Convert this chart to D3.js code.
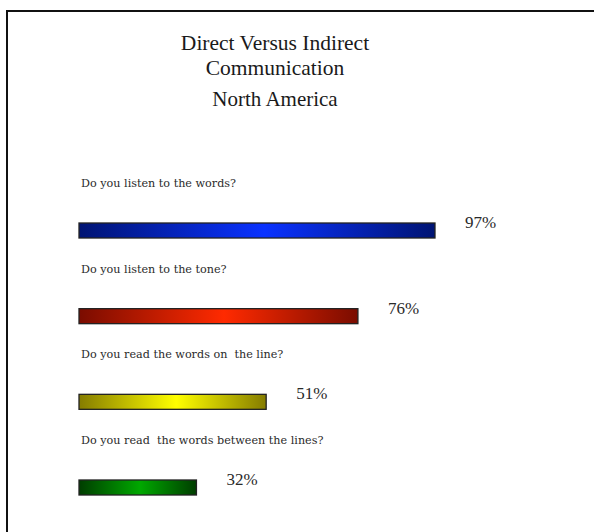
<!DOCTYPE html>
<html>
<head>
<meta charset="utf-8">
<script src="https://cdn.jsdelivr.net/npm/d3@7"></script>
<style>
  html, body { margin: 0; padding: 0; background: #fff; }
  svg { display: block; }
  text { white-space: pre; }
</style>
</head>
<body>
<svg id="chart" width="594" height="532"></svg>
<script>
// Survey questions and share of respondents answering yes (percent)
const questions = [
  "Do you listen to the words?",
  "Do you listen to the tone?",
  "Do you read the words on  the line?",
  "Do you read  the words between the lines?"
];
const values = [97, 76, 51, 32];
const titleLines = ["Direct Versus Indirect", "Communication"];
const subtitle = "North America";

// Bar shading: dark edge colour and bright centre colour per row
const edgeColors = ["#001473", "#7a0c00", "#857c00", "#003d00"];
const centerColors = ["#0a32ff", "#ff2a00", "#ffff00", "#00a800"];

const W = 594, H = 532;
const svg = d3.select("#chart");

// page frame (left and top rules)
svg.append("path")
  .attr("d", `M7,${H} L7,11 L${W},11`)
  .attr("fill", "none")
  .attr("stroke", "#111")
  .attr("stroke-width", 2);

const serif = "'Liberation Serif', 'DejaVu Serif', serif";
const labelFont = "'DejaVu Serif', 'Liberation Serif', serif";
const cx = 275;

svg.append("g").selectAll("text")
  .data(titleLines)
  .join("text")
  .attr("x", cx)
  .attr("y", (d, i) => 50 + i * 25)
  .attr("text-anchor", "middle")
  .attr("font-family", serif)
  .attr("font-size", 21.5)
  .attr("fill", "#1a1a1a")
  .text(d => d);

svg.append("text")
  .attr("x", cx)
  .attr("y", 106)
  .attr("text-anchor", "middle")
  .attr("font-family", serif)
  .attr("font-size", 21)
  .attr("fill", "#1a1a1a")
  .text(subtitle);

// gradients: dark – bright – dark across each bar
const defs = svg.append("defs");
values.forEach((v, i) => {
  const g = defs.append("linearGradient")
    .attr("id", "bar-grad-" + i)
    .attr("x1", "0%").attr("x2", "100%")
    .attr("y1", "0%").attr("y2", "0%");
  g.append("stop").attr("offset", "0%").attr("stop-color", edgeColors[i]);
  g.append("stop").attr("offset", "52%").attr("stop-color", centerColors[i]);
  g.append("stop").attr("offset", "100%").attr("stop-color", edgeColors[i]);
});

const x = d3.scaleLinear().domain([0, 100]).range([79, 446]);
const y = d3.scalePoint().domain(questions).range([223, 480]);
const barH = 15;

const rows = svg.append("g").selectAll("g")
  .data(questions.map((q, i) => ({ q, v: values[i], i })))
  .join("g");

rows.append("text")
  .attr("x", 81)
  .attr("y", d => y(d.q) - 36)
  .attr("font-family", labelFont)
  .attr("font-size", 11.2)
  .attr("fill", "#2a2a2a")
  .text(d => d.q);

rows.append("rect")
  .attr("x", x(0))
  .attr("y", d => y(d.q))
  .attr("width", d => x(d.v) - x(0))
  .attr("height", barH)
  .attr("fill", d => `url(#bar-grad-${d.i})`)
  .attr("stroke", "#222")
  .attr("stroke-width", 1.3);

rows.append("text")
  .attr("x", d => x(d.v) + 30)
  .attr("y", d => y(d.q) + 5)
  .attr("font-family", serif)
  .attr("font-size", 17)
  .attr("fill", "#2a2a2a")
  .text(d => d.v + "%");
</script>
</body>
</html>
